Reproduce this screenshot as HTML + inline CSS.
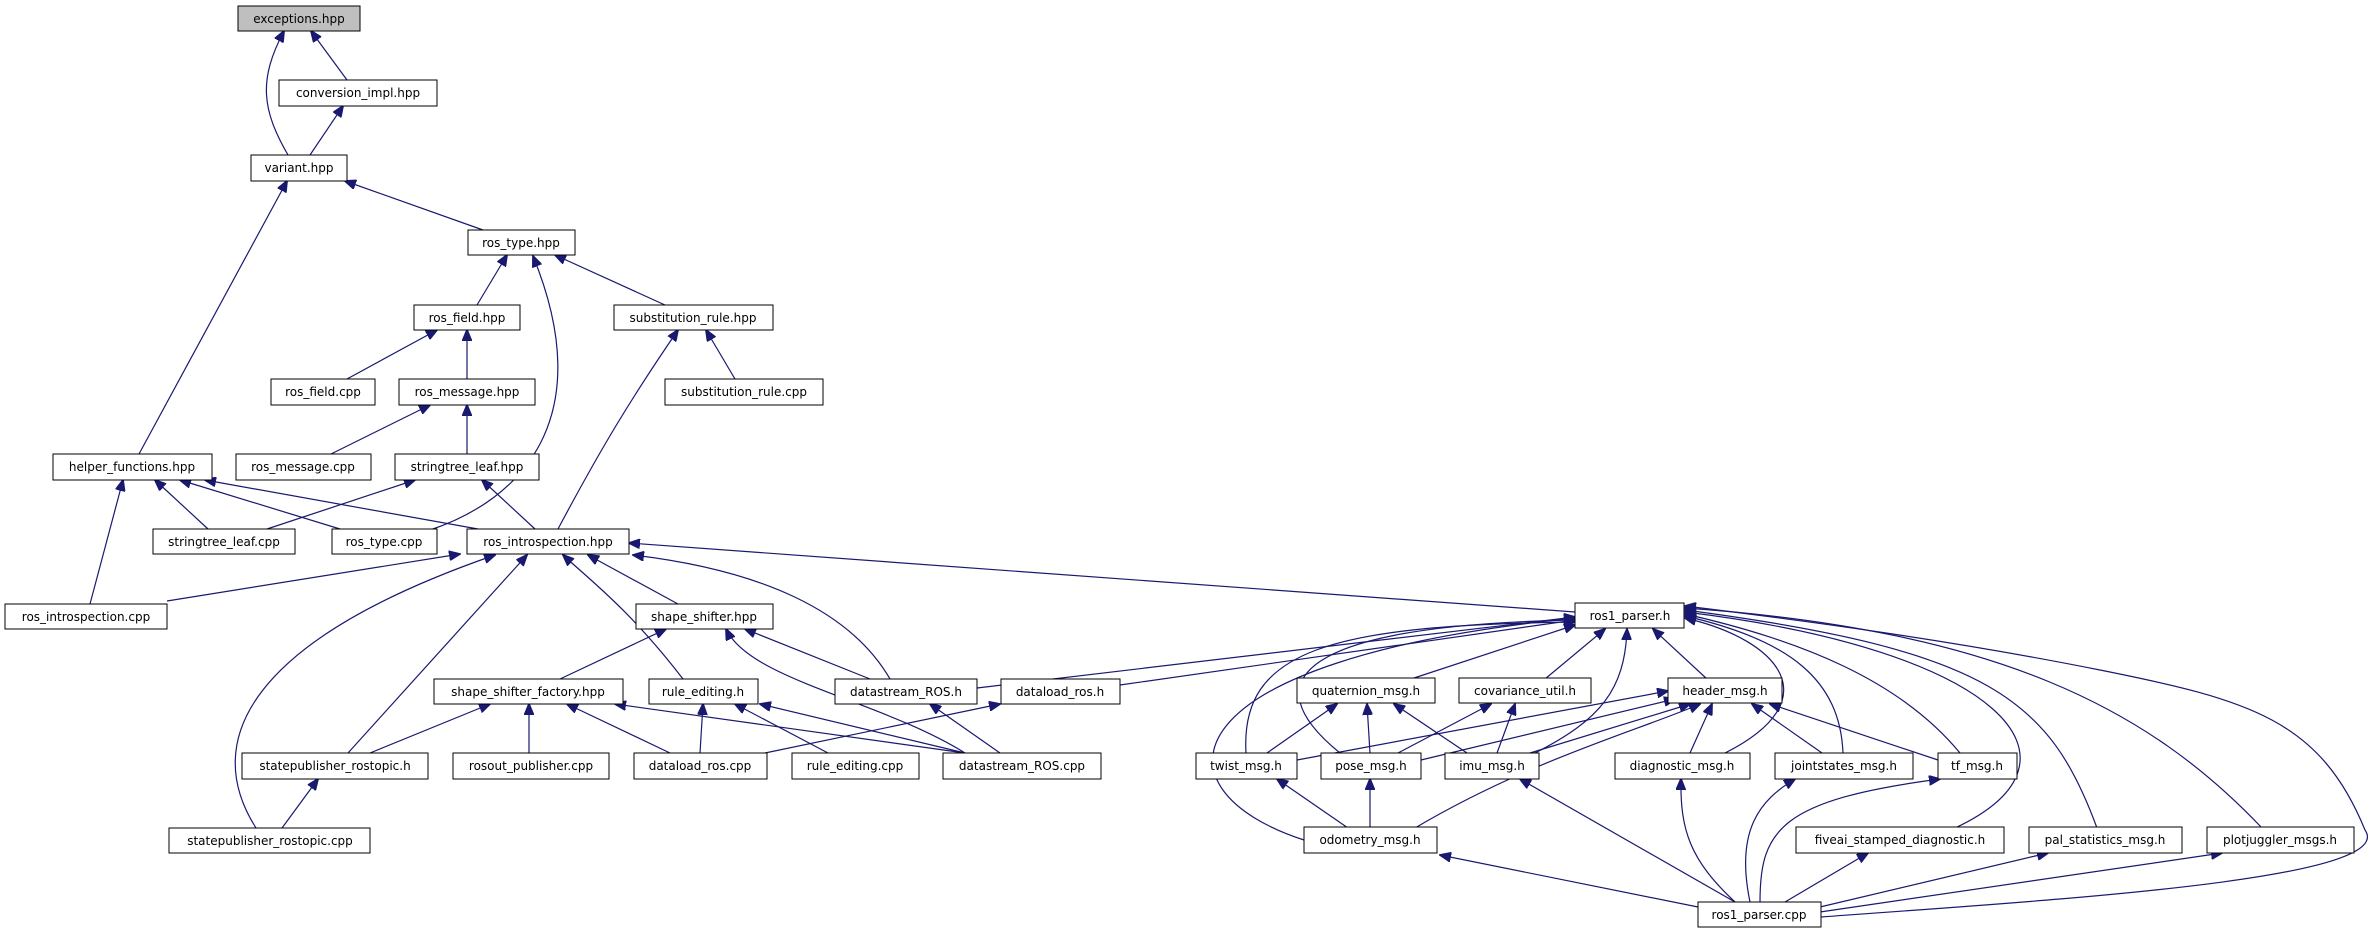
<!DOCTYPE html>
<html><head><meta charset="utf-8"><style>
html,body{margin:0;padding:0;background:#fff}
svg{display:block}
text{font-family:"DejaVu Sans","Liberation Sans",sans-serif;font-size:12px;fill:#000}
.n{fill:#fff;stroke:#000;stroke-width:1}
.e{fill:none;stroke:#191970;stroke-width:1.2}
</style></head><body>
<svg width="2377" height="933" viewBox="0 0 2377 933" xmlns="http://www.w3.org/2000/svg">
<defs><marker id="a" markerWidth="12" markerHeight="10" refX="11" refY="5" orient="auto" markerUnits="userSpaceOnUse"><path d="M0,0 L12,5 L0,10 z" fill="#191970" stroke="#191970"/></marker></defs>
<g class="e" marker-end="url(#a)">
<path d="M347,80 L311,31"/>
<path d="M288,155 C262,110 258,80 284,31"/>
<path d="M310,155 L343,106"/>
<path d="M483,230 L345,181"/>
<path d="M139,454 L287,181"/>
<path d="M477,305 L507,255"/>
<path d="M665,305 L555,255"/>
<path d="M430,530 C520,500 600,420 533,256"/>
<path d="M347,379 L437,330"/>
<path d="M467,379 L467,330"/>
<path d="M558,529 C600,450 630,400 678,330"/>
<path d="M735,379 L706,330"/>
<path d="M331,454 L430,405"/>
<path d="M467,454 L467,405"/>
<path d="M208,529 L155,480"/>
<path d="M340,529 L180,480"/>
<path d="M478,529 L205,480"/>
<path d="M90,604 L123,480"/>
<path d="M267,529 L415,480"/>
<path d="M535,529 L482,480"/>
<path d="M167,601 L460,554"/>
<path d="M256,828 C200,740 250,640 495,555"/>
<path d="M348,753 L527,555"/>
<path d="M683,679 C630,610 590,580 563,555"/>
<path d="M678,604 L588,555"/>
<path d="M890,679 C850,610 760,570 633,555"/>
<path d="M1575,612 L629,543"/>
<path d="M560,679 L666,629"/>
<path d="M870,679 L745,629"/>
<path d="M965,753 C880,700 750,680 726,629"/>
<path d="M370,753 L490,704"/>
<path d="M529,753 L529,704"/>
<path d="M670,753 L567,704"/>
<path d="M965,753 L615,704"/>
<path d="M700,753 L703,704"/>
<path d="M828,753 L735,704"/>
<path d="M965,753 L760,704"/>
<path d="M765,753 L1000,704"/>
<path d="M1000,753 L930,704"/>
<path d="M282,828 L318,779"/>
<path d="M977,688 L1575,617"/>
<path d="M1120,685 L1575,620"/>
<path d="M1411,679 L1575,625"/>
<path d="M1545,679 L1605,629"/>
<path d="M1707,679 L1653,629"/>
<path d="M1246,753 C1240,650 1330,625 1575,622"/>
<path d="M1340,753 C1250,680 1300,625 1575,620"/>
<path d="M1535,753 C1600,720 1625,690 1627,629"/>
<path d="M1725,753 C1830,700 1780,640 1685,618"/>
<path d="M1843,753 C1840,680 1790,640 1685,616"/>
<path d="M1960,753 C1900,680 1800,640 1685,614"/>
<path d="M1304,840 C1150,790 1160,660 1575,618"/>
<path d="M1955,828 C2100,760 2000,650 1685,612"/>
<path d="M2097,828 C2050,700 1990,650 1685,610"/>
<path d="M2262,828 C2150,710 2000,630 1685,608"/>
<path d="M1821,917 C2050,900 2400,880 2365,830 C2320,720 2250,700 2100,670 C1950,640 1800,620 1685,606"/>
<path d="M1267,753 L1337,704"/>
<path d="M1370,753 L1367,704"/>
<path d="M1467,753 L1394,704"/>
<path d="M1398,753 L1491,704"/>
<path d="M1497,753 L1515,704"/>
<path d="M1297,760 L1668,691"/>
<path d="M1421,760 L1675,699"/>
<path d="M1530,753 L1690,704"/>
<path d="M1690,753 L1712,704"/>
<path d="M1822,753 L1752,704"/>
<path d="M1938,760 L1770,704"/>
<path d="M1415,828 C1530,760 1640,730 1700,704"/>
<path d="M1348,828 L1277,779"/>
<path d="M1370,828 L1370,779"/>
<path d="M1698,907 L1440,855"/>
<path d="M1735,902 L1520,779"/>
<path d="M1735,902 C1690,860 1680,830 1681,779"/>
<path d="M1750,902 C1735,830 1760,800 1795,779"/>
<path d="M1760,902 C1760,830 1780,800 1940,779"/>
<path d="M1785,902 L1868,853"/>
<path d="M1820,907 L2048,853"/>
<path d="M1820,912 L2222,853"/>
</g>
<g>
<rect class="n" x="238" y="6" width="122" height="25" style="fill:#bfbfbf"/><text x="299" y="23" text-anchor="middle">exceptions.hpp</text>
<rect class="n" x="279" y="80" width="158" height="26"/><text x="358" y="97" text-anchor="middle">conversion_impl.hpp</text>
<rect class="n" x="251" y="155" width="96" height="26"/><text x="299" y="172" text-anchor="middle">variant.hpp</text>
<rect class="n" x="468" y="230" width="107" height="25"/><text x="521" y="247" text-anchor="middle">ros_type.hpp</text>
<rect class="n" x="414" y="305" width="106" height="25"/><text x="467" y="322" text-anchor="middle">ros_field.hpp</text>
<rect class="n" x="614" y="305" width="159" height="25"/><text x="693" y="322" text-anchor="middle">substitution_rule.hpp</text>
<rect class="n" x="271" y="379" width="104" height="26"/><text x="323" y="396" text-anchor="middle">ros_field.cpp</text>
<rect class="n" x="399" y="379" width="136" height="26"/><text x="467" y="396" text-anchor="middle">ros_message.hpp</text>
<rect class="n" x="665" y="379" width="158" height="26"/><text x="744" y="396" text-anchor="middle">substitution_rule.cpp</text>
<rect class="n" x="53" y="454" width="159" height="26"/><text x="132" y="471" text-anchor="middle">helper_functions.hpp</text>
<rect class="n" x="236" y="454" width="135" height="26"/><text x="303" y="471" text-anchor="middle">ros_message.cpp</text>
<rect class="n" x="395" y="454" width="144" height="26"/><text x="467" y="471" text-anchor="middle">stringtree_leaf.hpp</text>
<rect class="n" x="153" y="529" width="142" height="25"/><text x="224" y="546" text-anchor="middle">stringtree_leaf.cpp</text>
<rect class="n" x="332" y="529" width="105" height="25"/><text x="384" y="546" text-anchor="middle">ros_type.cpp</text>
<rect class="n" x="467" y="529" width="162" height="25"/><text x="548" y="546" text-anchor="middle">ros_introspection.hpp</text>
<rect class="n" x="5" y="604" width="162" height="25"/><text x="86" y="621" text-anchor="middle">ros_introspection.cpp</text>
<rect class="n" x="636" y="604" width="137" height="25"/><text x="704" y="621" text-anchor="middle">shape_shifter.hpp</text>
<rect class="n" x="1575" y="603" width="109" height="25"/><text x="1630" y="620" text-anchor="middle">ros1_parser.h</text>
<rect class="n" x="434" y="679" width="189" height="25"/><text x="528" y="696" text-anchor="middle">shape_shifter_factory.hpp</text>
<rect class="n" x="649" y="679" width="109" height="25"/><text x="703" y="696" text-anchor="middle">rule_editing.h</text>
<rect class="n" x="835" y="679" width="142" height="25"/><text x="906" y="696" text-anchor="middle">datastream_ROS.h</text>
<rect class="n" x="1001" y="679" width="119" height="25"/><text x="1060" y="696" text-anchor="middle">dataload_ros.h</text>
<rect class="n" x="1297" y="678" width="138" height="25"/><text x="1366" y="695" text-anchor="middle">quaternion_msg.h</text>
<rect class="n" x="1459" y="678" width="132" height="25"/><text x="1525" y="695" text-anchor="middle">covariance_util.h</text>
<rect class="n" x="1668" y="678" width="114" height="25"/><text x="1725" y="695" text-anchor="middle">header_msg.h</text>
<rect class="n" x="242" y="753" width="186" height="26"/><text x="335" y="770" text-anchor="middle">statepublisher_rostopic.h</text>
<rect class="n" x="453" y="753" width="156" height="26"/><text x="531" y="770" text-anchor="middle">rosout_publisher.cpp</text>
<rect class="n" x="634" y="753" width="133" height="26"/><text x="700" y="770" text-anchor="middle">dataload_ros.cpp</text>
<rect class="n" x="792" y="753" width="127" height="26"/><text x="855" y="770" text-anchor="middle">rule_editing.cpp</text>
<rect class="n" x="943" y="753" width="158" height="26"/><text x="1022" y="770" text-anchor="middle">datastream_ROS.cpp</text>
<rect class="n" x="1196" y="753" width="101" height="26"/><text x="1246" y="770" text-anchor="middle">twist_msg.h</text>
<rect class="n" x="1321" y="753" width="100" height="26"/><text x="1371" y="770" text-anchor="middle">pose_msg.h</text>
<rect class="n" x="1445" y="753" width="94" height="26"/><text x="1492" y="770" text-anchor="middle">imu_msg.h</text>
<rect class="n" x="1615" y="753" width="135" height="26"/><text x="1682" y="770" text-anchor="middle">diagnostic_msg.h</text>
<rect class="n" x="1775" y="753" width="138" height="26"/><text x="1844" y="770" text-anchor="middle">jointstates_msg.h</text>
<rect class="n" x="1938" y="753" width="79" height="26"/><text x="1977" y="770" text-anchor="middle">tf_msg.h</text>
<rect class="n" x="169" y="828" width="201" height="25"/><text x="270" y="845" text-anchor="middle">statepublisher_rostopic.cpp</text>
<rect class="n" x="1304" y="827" width="133" height="26"/><text x="1370" y="844" text-anchor="middle">odometry_msg.h</text>
<rect class="n" x="1796" y="827" width="208" height="26"/><text x="1900" y="844" text-anchor="middle">fiveai_stamped_diagnostic.h</text>
<rect class="n" x="2029" y="827" width="153" height="26"/><text x="2105" y="844" text-anchor="middle">pal_statistics_msg.h</text>
<rect class="n" x="2207" y="827" width="147" height="26"/><text x="2280" y="844" text-anchor="middle">plotjuggler_msgs.h</text>
<rect class="n" x="1698" y="902" width="123" height="25"/><text x="1759" y="919" text-anchor="middle">ros1_parser.cpp</text>
</g>
</svg>
</body></html>
